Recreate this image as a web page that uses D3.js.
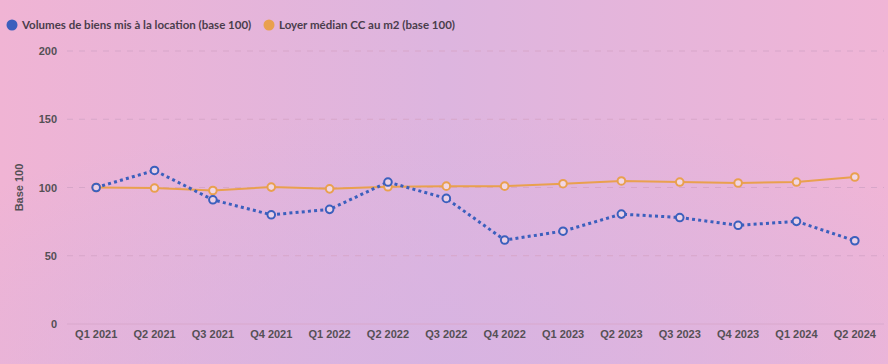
<!DOCTYPE html>
<html><head><meta charset="utf-8">
<script src="https://cdn.jsdelivr.net/npm/d3@7"></script>
<style>
html,body{margin:0;padding:0;}
body{width:888px;height:364px;overflow:hidden;}
</style></head>
<body><svg id="c" width="888" height="364"></svg>
<script>
const categories = ["Q1 2021","Q2 2021","Q3 2021","Q4 2021","Q1 2022","Q2 2022","Q3 2022","Q4 2022","Q1 2023","Q2 2023","Q3 2023","Q4 2023","Q1 2024","Q2 2024"];
const volumes = [100, 112.5, 91, 80, 84, 104, 92, 61.5, 68, 80.5, 78, 72.3, 75.2, 61];
const loyers = [100, 99.6, 97.8, 100.3, 99, 100.5, 101, 101, 102.8, 104.8, 104, 103.3, 104, 107.7];
const yTicks = [0, 50, 100, 150, 200];
const seriesNames = ["Volumes de biens mis à la location (base 100)", "Loyer médian CC au m2 (base 100)"];
const yLabel = "Base 100";

const svg = d3.select("#c");
const W = 888, H = 364;
const defs = svg.append("defs");
const g1 = defs.append("linearGradient").attr("id","bg").attr("x1","0").attr("y1","0").attr("x2","1").attr("y2","0");
g1.append("stop").attr("offset","0").attr("stop-color","#f0b4d4");
g1.append("stop").attr("offset","0.5").attr("stop-color","#ddb5df");
g1.append("stop").attr("offset","1").attr("stop-color","#f0b5d6");
const g2 = defs.append("radialGradient").attr("id","bg2").attr("cx","0.5").attr("cy","1").attr("r","0.7");
g2.append("stop").attr("offset","0").attr("stop-color","#d6b3e2").attr("stop-opacity",0.8);
g2.append("stop").attr("offset","1").attr("stop-color","#d6b3e2").attr("stop-opacity",0);
svg.append("rect").attr("width",W).attr("height",H).attr("fill","url(#bg)");
svg.append("rect").attr("width",W).attr("height",H).attr("fill","url(#bg2)");

const mLeft = 67, mRight = 884, mTop = 51, mBottom = 324;
const x = d3.scaleBand().domain(categories).range([mLeft, mRight]);
const y = d3.scaleLinear().domain([0, 200]).range([mBottom, mTop]);
const cx = d => x(d) + x.bandwidth()/2;

// grid
svg.append("g").selectAll("line").data(yTicks).join("line")
  .attr("x1", mLeft).attr("x2", mRight)
  .attr("y1", d => y(d)).attr("y2", d => y(d))
  .attr("stroke", d => d === 0 ? "#d9a8cc" : "#d7a6c9")
  .attr("stroke-width", 1)
  .attr("stroke-dasharray", d => d === 0 ? null : "6,6");

// y axis labels
const yAxis = svg.append("g").attr("transform", `translate(${mLeft-10},0)`)
  .call(d3.axisLeft(y).tickValues(yTicks).tickSize(0).tickPadding(0));
yAxis.select(".domain").remove();
yAxis.selectAll("text").attr("font-family","Liberation Sans, Arial, sans-serif")
  .attr("font-weight","bold").attr("font-size","11px").attr("fill","#555055");

// x axis
const xAxis = svg.append("g").attr("transform", `translate(0,${mBottom+4})`)
  .call(d3.axisBottom(x).tickSize(0).tickPadding(2));
xAxis.select(".domain").remove();
xAxis.selectAll("text").attr("font-family","Liberation Sans, Arial, sans-serif")
  .attr("font-weight","bold").attr("font-size","11px").attr("fill","#555055");

// y label
svg.append("text").attr("transform", `translate(23,${y(100)}) rotate(-90)`)
  .attr("text-anchor","middle").attr("font-family","Liberation Sans, Arial, sans-serif")
  .attr("font-weight","bold").attr("font-size","11px").attr("fill","#555055").text(yLabel);

const blue = "#3b5fbd", orange = "#e9a04e";

const line = d3.line().x((d,i) => cx(categories[i])).y(d => y(d));
svg.append("path").datum(loyers).attr("d", line).attr("fill","none")
  .attr("stroke", orange).attr("stroke-width", 2);
svg.append("path").datum(volumes).attr("d", line).attr("fill","none")
  .attr("stroke", blue).attr("stroke-width", 3).attr("stroke-dasharray","3,3.2");

svg.append("g").selectAll("circle").data(loyers).join("circle")
  .attr("cx", (d,i) => cx(categories[i])).attr("cy", d => y(d)).attr("r", 3.8)
  .attr("fill", "#f1d6e4").attr("stroke", orange).attr("stroke-width", 2);
svg.append("g").selectAll("circle").data(volumes).join("circle")
  .attr("cx", (d,i) => cx(categories[i])).attr("cy", d => y(d)).attr("r", 3.8)
  .attr("fill", "#ead0e6").attr("stroke", blue).attr("stroke-width", 2);

// legend
const leg = svg.append("g").attr("font-family","Lato, sans-serif").attr("font-weight","bold").attr("font-size","11.5px").attr("fill","#4a3d4c");
leg.append("circle").attr("cx",12).attr("cy",25).attr("r",5.5).attr("fill",blue);
leg.append("text").attr("x",22).attr("y",29).text(seriesNames[0]);
leg.append("circle").attr("cx",269).attr("cy",25).attr("r",5.5).attr("fill",orange);
leg.append("text").attr("x",279).attr("y",29).text(seriesNames[1]);
</script></body></html>
